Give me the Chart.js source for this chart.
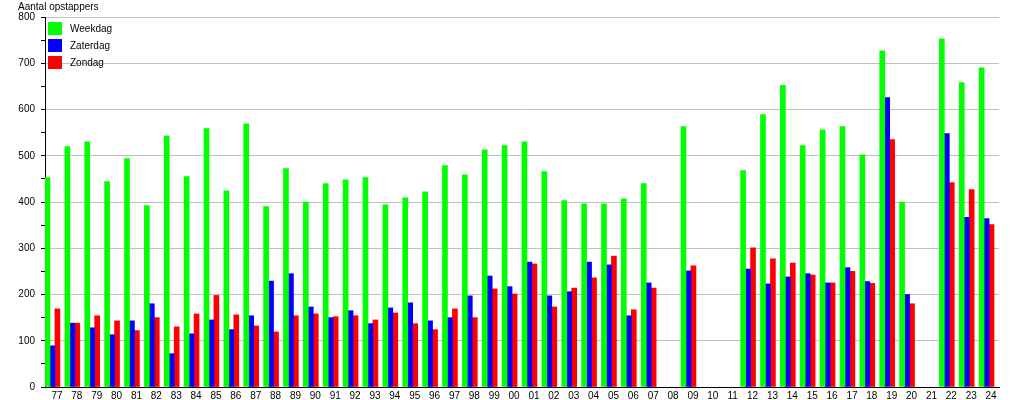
<!DOCTYPE html>
<html>
<head>
<meta charset="utf-8">
<title>Aantal opstappers</title>
<script src="https://cdn.jsdelivr.net/npm/chart.js@4/dist/chart.umd.min.js"></script>
<style>
    html, body { margin: 0; padding: 0; background: #fff; }
    .chart-box { position: relative; width: 1015px; height: 400px; }
</style>
</head>
<body>
<div class="chart-box"><canvas id="opstappersChart"></canvas></div>
<script>
// Years shown on the x axis ('77 .. '24)
const years = ['77', '78', '79', '80', '81', '82', '83', '84', '85', '86', '87', '88',
    '89', '90', '91', '92', '93', '94', '95', '96', '97', '98', '99',
    '00', '01', '02', '03', '04', '05', '06', '07', '08', '09', '10', '11', '12',
    '13', '14', '15', '16', '17', '18', '19', '20', '21', '22', '23', '24'];

const weekdag = [453, 520, 530, 444, 494, 392, 543, 455, 559, 424, 569, 390,
    472, 400, 440, 448, 453, 394, 409, 422, 479, 459, 513,
    522, 530, 466, 403, 396, 396, 407, 440, null, 563, null, null, 468,
    589, 652, 522, 556, 563, 502, 727, 400, null, 753, 658, 690];

const zaterdag = [89, 138, 128, 113, 143, 180, 72, 115, 145, 124, 154, 229,
    245, 173, 150, 165, 137, 171, 182, 143, 150, 197, 240,
    217, 270, 197, 206, 270, 264, 154, 225, null, 251, null, null, 255,
    223, 238, 245, 225, 258, 228, 626, 200, null, 548, 367, 364];

const zondag = [169, 138, 154, 143, 122, 150, 130, 158, 198, 156, 132, 119,
    154, 158, 152, 154, 145, 160, 137, 124, 169, 150, 212,
    201, 266, 173, 214, 236, 283, 167, 214, null, 262, null, null, 301,
    277, 268, 242, 225, 250, 224, 535, 180, null, 442, 427, 351];

const yTicks = [0, 100, 200, 300, 400, 500, 600, 700, 800];

const FONT = "'Liberation Sans', Arial, sans-serif";

document.addEventListener('DOMContentLoaded', function () {
    const ctx = document.getElementById('opstappersChart').getContext('2d');

    // axis title top left + legend inside the plot (vertical, square swatches)
    const extras = {
        id: 'extras',
        afterDraw(chart) {
            const c = chart.ctx;
            c.save();
            c.fillStyle = '#000';
            c.font = '10px ' + FONT;
            c.textBaseline = 'middle';
            c.textAlign = 'left';
            c.fillText('Aantal opstappers', 18, 7);

            const left = chart.chartArea.left + 3;
            let top = chart.chartArea.top + 5;
            chart.data.datasets.forEach(ds => {
                if (!ds.label) return;
                c.fillStyle = ds.backgroundColor;
                c.fillRect(left, top, 14, 13);
                c.fillStyle = '#000';
                c.fillText(ds.label, left + 22, top + 7);
                top += 17;
            });
            c.restore();
        }
    };

    new Chart(ctx, {
        type: 'bar',
        data: {
            labels: years,
            datasets: [
                { label: 'Weekdag', data: weekdag, backgroundColor: '#00ff00' },
                { label: 'Zaterdag', data: zaterdag, backgroundColor: '#0000ff' },
                { label: 'Zondag', data: zondag, backgroundColor: '#ff0000' },
                // empty slot so the three bars sit at the left of each year
                { label: '', data: years.map(() => null), backgroundColor: 'transparent' }
            ]
        },
        options: {
            responsive: true,
            maintainAspectRatio: false,
            animation: false,
            devicePixelRatio: 1,
            categoryPercentage: 1.0,
            barPercentage: 1.0,
            layout: {
                padding: { top: 17, right: 16, bottom: 0, left: 0 }
            },
            plugins: {
                legend: { display: false },
                tooltip: { enabled: false }
            },
            scales: {
                x: {
                    grid: { display: true, color: 'transparent', drawTicks: false },
                    border: { display: true, color: '#000', width: 1 },
                    ticks: {
                        color: '#000',
                        font: { family: FONT, size: 10 },
                        padding: 3,
                        labelOffset: 2,
                        autoSkip: false,
                        maxRotation: 0
                    },
                    afterFit(scale) { scale.height = 13; }
                },
                y: {
                    min: 0,
                    max: 800,
                    afterBuildTicks(scale) {
                        // major ticks every 100, small unlabeled ticks halfway
                        const all = [];
                        yTicks.forEach((v, i) => {
                            all.push({ value: v });
                            if (i < yTicks.length - 1) all.push({ value: v + 50 });
                        });
                        scale.ticks = all;
                    },
                    grid: {
                        color: c => (yTicks.includes(c.tick.value) && c.tick.value !== 0) ? '#c0c0c0' : 'transparent',
                        tickColor: '#000',
                        tickLength: 4,
                        lineWidth: 1
                    },
                    border: { display: true, color: '#000', width: 1 },
                    ticks: {
                        color: '#000',
                        font: { family: FONT, size: 10 },
                        padding: 6,
                        callback: v => yTicks.includes(v) ? v : ''
                    },
                    afterFit(scale) { scale.width = 45; }
                }
            }
        },
        plugins: [extras]
    });
});
</script>
</body>
</html>
